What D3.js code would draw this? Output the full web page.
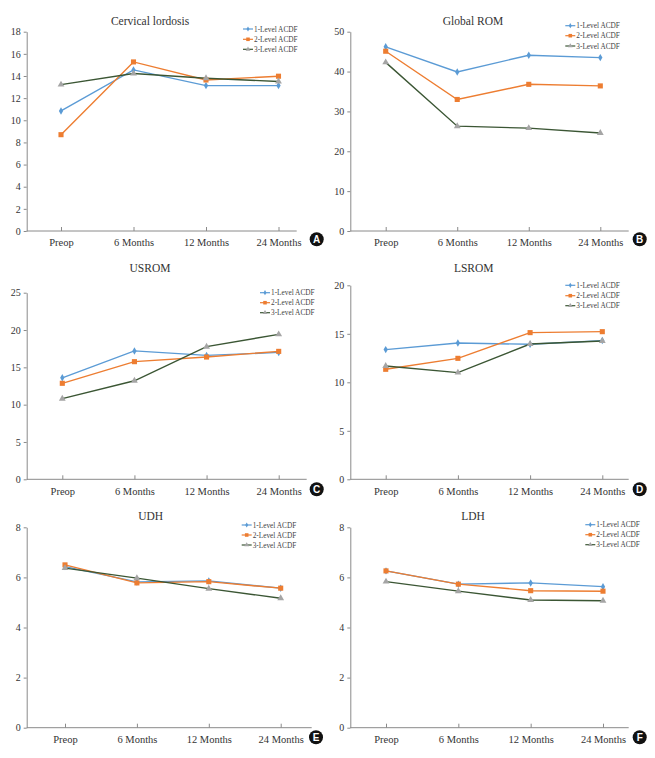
<!DOCTYPE html>
<html><head><meta charset="utf-8">
<script src="https://cdn.jsdelivr.net/npm/d3@7"></script>
<style>
body{margin:0;background:#fff}
svg{display:block}
svg text{font-family:"Liberation Serif","DejaVu Serif",serif}
svg text.badge{font-family:"Liberation Sans","DejaVu Sans",sans-serif;font-weight:bold}
</style>
</head><body>
<svg id="c" width="655" height="758"></svg>
<script>
const categories = ["Preop","6 Months","12 Months","24 Months"];
const seriesNames = ["1-Level ACDF","2-Level ACDF","3-Level ACDF"];
const titles = ["Cervical lordosis","Global ROM","USROM","LSROM","UDH","LDH"];
const panelLetters = ["A","B","C","D","E","F"];
const cervicalLordosis = [[10.84,14.55,13.13,13.13],[8.7,15.27,13.64,13.98],[13.22,14.22,13.8,13.5]];
const globalROM = [[46.2,39.9,44.1,43.5],[45.1,33.0,36.8,36.4],[42.3,26.3,25.8,24.6]];
const usrom = [[13.6,17.2,16.6,17.0],[12.86,15.76,16.38,17.14],[10.8,13.2,17.77,19.42]];
const lsrom = [[13.37,14.05,13.92,14.3],[11.34,12.47,15.12,15.22],[11.68,11.0,13.95,14.26]];
const udh = [[6.43,5.82,5.86,5.57],[6.5,5.78,5.83,5.57],[6.37,5.97,5.55,5.17]];
const ldh = [[6.26,5.73,5.78,5.63],[6.26,5.73,5.47,5.45],[5.83,5.45,5.1,5.07]];
const yTicksA = [0,2,4,6,8,10,12,14,16,18];
const yTicksB = [0,10,20,30,40,50];
const yTicksC = [0,5,10,15,20,25];
const yTicksD = [0,5,10,15,20];
const yTicksE = [0,2,4,6,8];
const yTicksF = [0,2,4,6,8];

const panelData = [cervicalLordosis, globalROM, usrom, lsrom, udh, ldh];
const panelTicks = [yTicksA, yTicksB, yTicksC, yTicksD, yTicksE, yTicksF];

// layout (positions only)
const layout = [
  {ax:26.7, top:31.7, bot:231, x0:61, x1:278.5, xe:296.7, tx:150, ty:24.5, lx:243, ly:[29,39.3,49.3], bx:316.7, by:239.3},
  {ax:350.3, top:31.7, bot:231, x0:385.7, x1:600.3, xe:628.7, tx:473, ty:24.5, lx:565.3, ly:[25.7,35.7,46], bx:639.7, by:239.3},
  {ax:26.7, top:292.7, bot:479.3, x0:62.3, x1:278.7, xe:306.7, tx:150, ty:272, lx:260, ly:[292.7,302.7,312.7], bx:316.7, by:489.3},
  {ax:350.3, top:285.3, bot:479.3, x0:385.7, x1:602.3, xe:628.7, tx:473.7, ty:272, lx:565.3, ly:[285.3,295.7,305.7], bx:639.7, by:489.3},
  {ax:26.7, top:527.3, bot:727.7, x0:65, x1:280.7, xe:311.7, tx:150.7, ty:519.5, lx:241.7, ly:[525,535,545], bx:316, by:737.3},
  {ax:350.3, top:527.3, bot:727.7, x0:386, x1:603, xe:628.7, tx:473, ty:519.5, lx:585.3, ly:[524.7,534.7,544.7], bx:639.7, by:737.3}
];

const colors = ["#5b9bd5","#ed7d31","#3b5634"];
const markerFill = ["#5b9bd5","#ed7d31","#a5a5a5"];
const symbols = [d3.symbol().type(d3.symbolDiamond).size(16), d3.symbol().type(d3.symbolSquare).size(26), d3.symbol().type(d3.symbolTriangle).size(20)];
const axisColor = "#8a8a8a";
const textColor = "#333";

const svg = d3.select("#c");

panelData.forEach((data, i) => {
  const L = layout[i];
  const ticks = panelTicks[i];
  const g = svg.append("g");
  const x = d3.scalePoint().domain(categories).range([L.x0, L.x1]);
  const y = d3.scaleLinear().domain([0, d3.max(ticks)]).range([L.bot, L.top]);

  // y axis
  const ya = g.append("g").attr("transform", `translate(${L.ax},0)`)
    .call(d3.axisLeft(y).tickValues(ticks).tickSizeInner(3).tickSizeOuter(0).tickPadding(3))
    .attr("font-size", 10);
  ya.select(".domain").attr("stroke", axisColor);
  ya.selectAll(".tick line").attr("stroke", axisColor);
  ya.selectAll(".tick text").attr("fill", textColor);

  // x axis
  const xa = g.append("g").attr("transform", `translate(0,${L.bot})`)
    .call(d3.axisBottom(x).tickSizeInner(-4).tickSizeOuter(0).tickPadding(8))
    .attr("font-size", 10.5);
  xa.select(".domain").remove();
  xa.selectAll(".tick line").attr("stroke", axisColor);
  xa.selectAll(".tick text").attr("fill", textColor);
  g.append("line").attr("x1", L.ax).attr("x2", L.xe).attr("y1", L.bot).attr("y2", L.bot)
    .attr("stroke", axisColor);

  // title
  g.append("text").attr("x", L.tx).attr("y", L.ty).attr("text-anchor", "middle")
    .attr("fill", textColor).attr("font-size", 11.5).text(titles[i]);

  // lines
  const line = d3.line().x((d, j) => x(categories[j])).y(d => y(d));
  data.forEach((s, k) => {
    g.append("path").datum(s).attr("d", line).attr("fill", "none")
      .attr("stroke", colors[k]).attr("stroke-width", 1.4);
  });
  data.forEach((s, k) => {
    g.selectAll(null).data(s).enter().append("path")
      .attr("d", symbols[k])
      .attr("transform", (d, j) => `translate(${x(categories[j])},${y(d)})`)
      .attr("fill", markerFill[k]);
  });

  // legend
  seriesNames.forEach((name, k) => {
    const ly = L.ly[k];
    g.append("line").attr("x1", L.lx).attr("x2", L.lx + 10).attr("y1", ly).attr("y2", ly)
      .attr("stroke", colors[k]).attr("stroke-width", 1.2);
    g.append("path").attr("d", symbols[k]).attr("transform", `translate(${L.lx + 5},${ly}) scale(0.7)`).attr("fill", markerFill[k]);
    g.append("text").attr("x", L.lx + 11).attr("y", ly).attr("dy", "0.35em")
      .attr("fill", "#444").attr("font-size", 7.3).text(name);
  });

  // panel badge
  g.append("circle").attr("cx", L.bx).attr("cy", L.by).attr("r", 7).attr("fill", "#111");
  g.append("text").attr("class", "badge").attr("x", L.bx).attr("y", L.by).attr("dy", "0.36em").attr("text-anchor", "middle")
    .attr("fill", "#fff").attr("font-size", 10).text(panelLetters[i]);
});
</script>
</body></html>
